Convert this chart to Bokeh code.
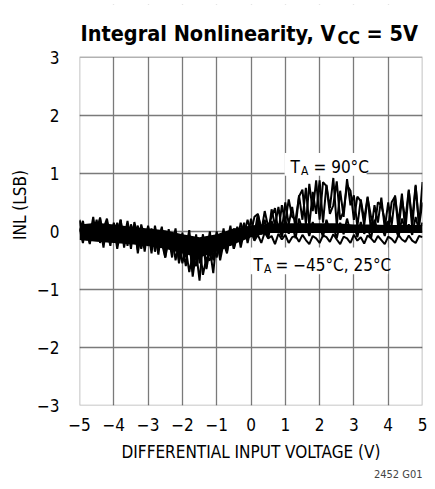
from bokeh.plotting import figure
from bokeh.models import Range1d, FixedTicker, Label, BoxAnnotation, Title
from bokeh.embed import file_html
from bokeh.resources import INLINE

FONT = "'DejaVu Sans Condensed', 'Liberation Sans Narrow', sans-serif"

# ---- axis ticks ----
x_ticks = [-5, -4, -3, -2, -1, 0, 1, 2, 3, 4, 5]
x_tick_labels = ["\u22125", "\u22124", "\u22123", "\u22122", "\u22121", "0", "1", "2", "3", "4", "5"]
y_ticks = [-3, -2, -1, 0, 1, 2, 3]
y_tick_labels = ["\u22123", "\u22122", "\u22121", "0", "1", "2", "3"]
x_grid = [-4, -3, -2, -1, 0, 1, 2, 3, 4]
y_grid = [-2, -1, 0, 1, 2]

# ---- INL traces, sampled every 0.1 V from -5 V to +5 V ----
volts = [round(-5 + 0.1 * i, 1) for i in range(101)]

inl_m45 = [
    0.18, -0.12, 0.05, -0.22, 0.14, -0.05, 0.22, -0.18, 0.02, -0.25,
    0.15, -0.08, 0.20, -0.28, 0.05, -0.15, 0.12, -0.38, 0.00, -0.22,
    0.10, -0.30, -0.05, -0.18, 0.08, -0.36, -0.02, -0.25, 0.05, -0.42,
    -0.12, -0.30, 0.02, -0.55, -0.20, -0.40, -0.05, -0.62, -0.15, -0.35,
    0.00, -0.42, -0.10, -0.22, 0.10, -0.30, 0.02, -0.12, 0.15, -0.20,
    0.05, -0.15, 0.20, -0.05, 0.08, -0.12, 0.18, 0.00, 0.10, -0.10,
    0.20, -0.04, 0.10, -0.12, 0.22, 0.02, 0.12, -0.08, 0.16, -0.02,
    0.10, -0.10, 0.20, 0.00, 0.08, -0.12, 0.15, -0.05, 0.22, -0.02,
    0.10, -0.10, 0.16, -0.04, 0.06, -0.12, 0.20, 0.00, 0.10, -0.08,
    0.18, -0.02, 0.08, -0.10, 0.22, 0.02, 0.12, -0.06, 0.25, 0.00,
    0.15,
]

inl_25 = [
    0.05, -0.20, 0.12, -0.10, 0.25, -0.15, 0.08, -0.28, 0.16, -0.05,
    0.10, -0.30, 0.02, -0.12, 0.18, -0.20, 0.06, -0.32, 0.12, -0.10,
    0.02, -0.38, 0.10, -0.22, -0.05, -0.45, 0.04, -0.30, -0.08, -0.50,
    -0.02, -0.45, -0.18, -0.70, -0.05, -0.55, -0.25, -0.40, 0.00, -0.50,
    -0.10, -0.30, 0.05, -0.35, -0.05, -0.18, 0.08, -0.28, 0.00, -0.12,
    0.02, -0.16, -0.06, -0.20, -0.02, -0.12, -0.08, -0.22, -0.04, -0.14,
    -0.06, -0.20, -0.10, -0.08, -0.18, -0.06, -0.15, -0.22, -0.08, -0.12,
    -0.20, -0.07, -0.10, -0.18, -0.05, -0.14, -0.22, -0.09, -0.12, -0.20,
    -0.06, -0.16, -0.10, -0.21, -0.07, -0.12, -0.19, -0.08, -0.15, -0.22,
    -0.09, -0.13, -0.20, -0.06, -0.14, -0.18, -0.07, -0.16, -0.20, -0.08,
    -0.10,
]

inl_90 = [
    0.20, -0.05, 0.10, -0.20, 0.15, 0.00, 0.24, -0.12, 0.08, -0.18,
    0.12, -0.05, 0.20, -0.22, 0.10, -0.30, 0.16, -0.10, 0.05, -0.35,
    0.08, -0.20, -0.02, -0.40, 0.05, -0.30, -0.10, -0.45, -0.02, -0.55,
    -0.25, -0.60, -0.10, -0.78, -0.35, -0.85, -0.20, -0.65, -0.30, -0.72,
    -0.10, -0.50, -0.20, -0.38, 0.02, -0.30, -0.08, -0.20, 0.12, -0.15,
    0.22, -0.05, 0.30, 0.05, 0.20, -0.08, 0.38, 0.10, 0.42, 0.02,
    0.50, 0.12, 0.42, 0.05, 0.62, 0.20, 0.75, 0.10, 0.68, 0.30,
    0.88, 0.15, 0.80, 0.40, 0.92, 0.10, 0.70, 0.25, 0.90, 0.45,
    0.62, 0.08, 0.55, 0.20, 0.60, 0.00, 0.45, 0.15, 0.58, 0.05,
    0.50, 0.10, 0.62, 0.02, 0.55, 0.20, 0.72, 0.05, 0.78, 0.10,
    0.85,
]

# second sweep of the 90 degC trace
inl_90_rep = [
    0.00, 0.18, -0.15, 0.10, -0.05, 0.20, -0.20, 0.05, 0.22, -0.10,
    -0.15, 0.15, -0.10, 0.05, -0.25, 0.12, -0.05, 0.10, -0.30, -0.05,
    -0.25, 0.05, -0.35, -0.08, -0.20, -0.45, -0.15, -0.05, -0.50, -0.20,
    -0.55, -0.30, -0.70, -0.40, -0.60, -0.25, -0.75, -0.45, -0.50, -0.20,
    -0.45, -0.15, -0.30, 0.00, -0.25, 0.05, -0.18, 0.15, -0.05, 0.20,
    -0.02, 0.25, 0.30, 0.00, 0.35, 0.08, 0.25, 0.40, -0.02, 0.45,
    0.15, 0.55, 0.25, 0.20, 0.60, 0.72, 0.12, 0.82, 0.35, 0.88,
    0.20, 0.85, 0.78, 0.30, 0.45, 0.86, 0.20, 0.35, 0.80, 0.70,
    0.20, 0.60, 0.52, 0.10, 0.58, 0.25, 0.05, 0.50, 0.45, 0.20,
    0.05, 0.50, 0.60, 0.15, 0.65, 0.00, 0.70, 0.20, 0.80, 0.10,
    0.50,
]

# ---- dense core of the overlapping traces, every 0.5 V ----
core_volts = [-5.0, -4.5, -4.0, -3.5, -3.0, -2.5, -2.0, -1.5, -1.0, -0.5, 0.0,
              0.5, 1.0, 1.5, 2.0, 2.5, 3.0, 3.5, 4.0, 4.5, 5.0]
core_lo = [-0.15, -0.18, -0.20, -0.22, -0.25, -0.30, -0.38, -0.45, -0.35, -0.22, -0.10,
           -0.03, -0.03, -0.03, -0.03, -0.03, -0.03, -0.03, -0.03, -0.03, -0.03]
core_hi = [0.12, 0.15, 0.12, 0.08, 0.05, 0.02, -0.05, -0.10, -0.05, 0.05, 0.10,
           0.13, 0.14, 0.14, 0.14, 0.14, 0.12, 0.12, 0.11, 0.11, 0.11]

# frame extends above y=3 so the title (with subscript) can be drawn as labels
p = figure(width=427, height=481, output_backend="svg", toolbar_location=None,
           x_range=Range1d(-5, 5), y_range=Range1d(-3, 3.9086),
           min_border_left=79, min_border_right=5, min_border_top=4, min_border_bottom=74)
p.background_fill_color = "white"
p.border_fill_color = "white"
p.outline_line_color = None

for ax in (p.xaxis[0], p.yaxis[0]):
    ax.axis_line_color = None
    ax.major_tick_line_color = None
    ax.minor_tick_line_color = None
    ax.major_label_text_font = FONT
    ax.major_label_text_font_size = "17px"
    ax.major_label_text_color = "black"
    ax.axis_label_text_font = FONT
    ax.axis_label_text_font_size = "17px"
    ax.axis_label_text_font_style = "normal"
    ax.axis_label_text_color = "black"

p.xaxis.ticker = FixedTicker(ticks=x_ticks)
p.yaxis.ticker = FixedTicker(ticks=y_ticks)
p.yaxis.bounds = (-3, 3)
p.xaxis.major_label_overrides = dict(zip(x_ticks, x_tick_labels))
p.yaxis.major_label_overrides = dict(zip(y_ticks, y_tick_labels))
p.xaxis.major_label_standoff = 6
p.yaxis.major_label_standoff = 14
p.xaxis.axis_label = "DIFFERENTIAL INPUT VOLTAGE (V)"
p.yaxis.axis_label = "INL (LSB)"
p.xaxis.axis_label_standoff = 8
p.yaxis.axis_label_standoff = 4

p.xgrid[0].ticker = FixedTicker(ticks=x_grid)
p.ygrid[0].ticker = FixedTicker(ticks=y_grid)
for g in (p.xgrid[0], p.ygrid[0]):
    g.grid_line_color = "#7a7a7a"
    g.grid_line_width = 1.3
    g.level = "image"

# blank the grid above the plot box (title area)
p.add_layout(BoxAnnotation(bottom=3, fill_color="white", fill_alpha=1,
                           line_color=None, level="underlay"))
# white boxes behind the in-plot labels
p.add_layout(BoxAnnotation(left=0.98, right=3.37, bottom=0.96, top=1.35,
                           fill_color="white", fill_alpha=1, line_color=None, level="underlay"))
p.add_layout(BoxAnnotation(left=-0.02, right=4.0, bottom=-0.74, top=-0.28,
                           fill_color="white", fill_alpha=1, line_color=None, level="underlay"))

p.varea(x=core_volts, y1=core_lo, y2=core_hi, fill_color="black")
for series in (inl_m45, inl_25, inl_90, inl_90_rep):
    p.line(volts, series, line_color="black", line_width=2.0)

# plot box border
p.add_layout(BoxAnnotation(left=-5, right=5, bottom=-3, top=3, fill_alpha=0,
                           line_color="black", line_width=1.6, level="overlay"))

def lab(x, y, text, size, style="normal"):
    p.add_layout(Label(x=x, y=y, text=text, text_font=FONT, text_font_size=size,
                       text_font_style=style, text_color="black",
                       text_baseline="alphabetic", text_align="left"))

# title pieces
lab(-4.97, 3.411, "Integral Nonlinearity, V", "21.5px", "bold")
lab(2.52, 3.326, "CC", "17px", "bold")
lab(3.37, 3.411, "= 5V", "21.5px", "bold")

# in-plot labels
lab(1.152, 1.114, "T", "17px")
lab(1.46, 1.046, "A", "12px")
lab(1.822, 1.114, "= 90\u00b0C", "17px")
lab(0.073, -0.583, "T", "17px")
lab(0.38, -0.651, "A", "12px")
lab(0.714, -0.583, "= \u221245\u00b0C, 25\u00b0C", "17px")

p.add_layout(Title(text="2452 G01", align="right", text_font=FONT, standoff=2,
                   text_font_size="11px", text_font_style="normal"), "below")

open("out.html", "w").write(file_html(p, INLINE))
